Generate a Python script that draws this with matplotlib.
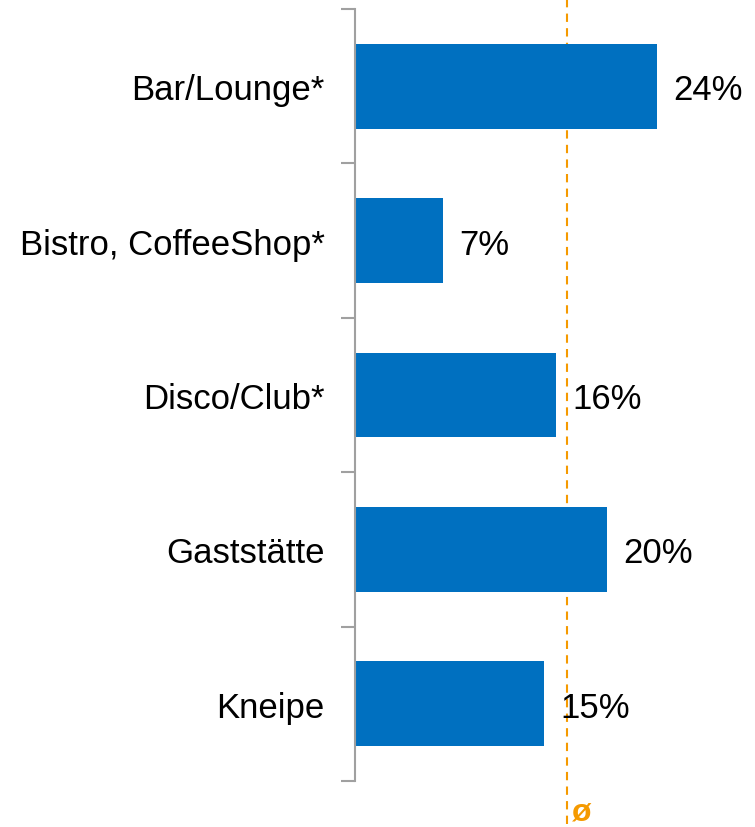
import matplotlib.pyplot as plt

# Daten
categories = ['Bar/Lounge*', 'Bistro, CoffeeShop*', 'Disco/Club*', 'Gaststätte', 'Kneipe']
values = [24, 7, 16, 20, 15]
average = 16.85

plt.rcParams['font.family'] = ['Liberation Sans', 'DejaVu Sans']

fig = plt.figure(figsize=(7.55, 8.28), dpi=100)
ax = fig.add_axes([355 / 755, 1 - 782 / 828, 377.4 / 755, 772 / 828])

pos = list(range(len(categories)))
ax.barh(pos, values, height=0.55, color='#0070C0', zorder=2)

# Prozentwerte neben den Balken
for p, v in zip(pos, values):
    ax.text(v + 1.3, p, f'{v}%', va='center_baseline', ha='left', fontsize=25, zorder=4)

# Durchschnittslinie
ax.plot([average, average], [-0.78, 5.05], color='#F59A00', linestyle=(0, (4, 3)),
        linewidth=1.5, clip_on=False, zorder=1)
fig.text((355 + (average + 0.4) * 377.4 / 30) / 755, 0.0, 'ø', color='#F59A00',
         fontsize=23, fontweight='bold', ha='left', va='bottom')

ax.set_xlim(0, 30)
ax.set_ylim(len(categories) - 0.5, -0.5)
ax.set_yticks(pos)
ax.set_yticklabels(categories, fontsize=25)
ax.set_yticks([i - 0.5 for i in range(len(categories) + 1)], minor=True)
ax.tick_params(axis='y', which='major', length=0, pad=22)
ax.tick_params(axis='y', which='minor', length=10, width=1.5, color='#A0A0A0')
ax.set_xticks([])

for s in ['top', 'right', 'bottom']:
    ax.spines[s].set_visible(False)
ax.spines['left'].set_color('#A0A0A0')
ax.spines['left'].set_linewidth(1.5)

fig.savefig('out.png', dpi=100)
